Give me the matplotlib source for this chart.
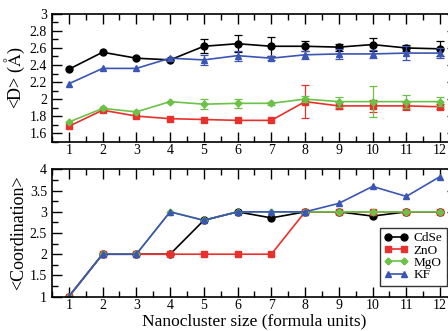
import numpy as np
import matplotlib
matplotlib.use("Agg")
import matplotlib.pyplot as plt
from matplotlib.ticker import MultipleLocator

plt.rcParams['font.family'] = ['Liberation Serif', 'DejaVu Serif']
plt.rcParams['mathtext.fontset'] = 'stix'

sizes = np.arange(1, 13)

# mean nearest-neighbour distance <D> and its spread
d_cdse = [2.35, 2.55, 2.48, 2.46, 2.62, 2.65, 2.62, 2.62, 2.61, 2.64, 2.60, 2.59]
d_cdse_err = [0, 0, 0, 0, 0.08, 0.10, 0.11, 0.06, 0.04, 0.08, 0.04, 0.09]
d_zno = [1.68, 1.87, 1.80, 1.77, 1.76, 1.75, 1.75, 1.97, 1.92, 1.92, 1.92, 1.91]
d_zno_err = [0, 0, 0, 0, 0, 0, 0, 0.19, 0.04, 0.07, 0.05, 0.03]
d_mgo = [1.73, 1.89, 1.85, 1.97, 1.94, 1.95, 1.95, 2.00, 1.97, 1.97, 1.97, 1.97]
d_mgo_err = [0, 0, 0, 0, 0.06, 0.05, 0.02, 0.04, 0.06, 0.18, 0.08, 0.05]
d_kf = [2.18, 2.36, 2.36, 2.48, 2.46, 2.51, 2.48, 2.52, 2.53, 2.53, 2.54, 2.54]
d_kf_err = [0, 0, 0, 0, 0.06, 0.06, 0.02, 0.05, 0.06, 0.05, 0.08, 0.06]

# mean coordination number
c_cdse = [1, 2, 2, 2, 2.8, 3, 2.857, 3, 3, 2.9, 3, 3]
c_zno = [1, 2, 2, 2, 2, 2, 2, 3, 3, 3, 3, 3]
c_mgo = [1, 2, 2, 3, 2.8, 3, 3, 3, 3, 3, 3, 3]
c_kf = [1, 2, 2, 3, 2.8, 3, 3, 3, 3.2, 3.6, 3.364, 3.833]

names = ['CdSe', 'ZnO', 'MgO', 'KF']
colors = ['black', '#e8302c', '#6cc147', '#3a55b4']
markers = ['o', 's', 'D', '^']
msizes = [5, 4.5, 3.5, 5]

fig = plt.figure(figsize=(4.48, 3.31), dpi=100)
ax1 = fig.add_axes([0.116, 0.572, 0.904, 0.386])
ax2 = fig.add_axes([0.116, 0.104, 0.904, 0.384])

dist = [(d_cdse, d_cdse_err), (d_zno, d_zno_err), (d_mgo, d_mgo_err), (d_kf, d_kf_err)]
for (y, e), c, m, ms in zip(dist, colors, markers, msizes):
    y = np.array(y)
    e = np.array(e)
    ax1.plot(sizes, y, color=c, marker=m, ms=ms, lw=1.2)
    has = e > 0
    ax1.errorbar(sizes[has], y[has], yerr=e[has], fmt='none', ecolor=c,
                 capsize=3, elinewidth=0.9, capthick=0.9)

coord = [c_cdse, c_zno, c_mgo, c_kf]
for y, c, m, ms, n in zip(coord, colors, markers, msizes, names):
    ax2.plot(sizes, y, color=c, marker=m, ms=ms, lw=1.2, label=n)

ax1.set_ylim(1.5, 3.0)
ax1.set_yticks(np.arange(1.6, 3.01, 0.2))
ax1.set_yticklabels(['1.6', '1.8', '2', '2.2', '2.4', '2.6', '2.8', '3'])
ax1.yaxis.set_minor_locator(MultipleLocator(0.1))
ax1.set_ylabel(r'<D> ($\mathrm{\AA}$)', fontsize=13, labelpad=2)

ax2.set_ylim(1, 4)
ax2.set_yticks([1, 1.5, 2, 2.5, 3, 3.5, 4])
ax2.set_yticklabels(['1', '1.5', '2', '2.5', '3', '3.5', '4'])
ax2.yaxis.set_minor_locator(MultipleLocator(0.25))
ax2.set_ylabel('<Coordination>', fontsize=13, labelpad=2)
ax2.set_xlabel('Nanocluster size (formula units)', fontsize=12.5, labelpad=0.5)

for ax in (ax1, ax2):
    ax.set_xlim(0.5, 12.5)
    ax.set_xticks(sizes)
    ax.xaxis.set_minor_locator(MultipleLocator(0.5))
    ax.tick_params(which='both', direction='in', top=True, right=True, labelsize=10)
    ax.tick_params(which='major', length=7, width=1)
    ax.tick_params(which='minor', length=4, width=1)
    ax.tick_params(axis='x', pad=2)
    for s in ax.spines.values():
        s.set_linewidth(1.2)

leg = ax2.legend(loc='lower right', bbox_to_anchor=(0.975, 0.085), fontsize=9.5,
                 frameon=True, fancybox=False, edgecolor='black', numpoints=2,
                 handlelength=1.8, borderpad=0.35, labelspacing=0.0,
                 handletextpad=0.4, borderaxespad=0)
leg.get_frame().set_linewidth(1.0)

fig.savefig('out.png', dpi=100)
